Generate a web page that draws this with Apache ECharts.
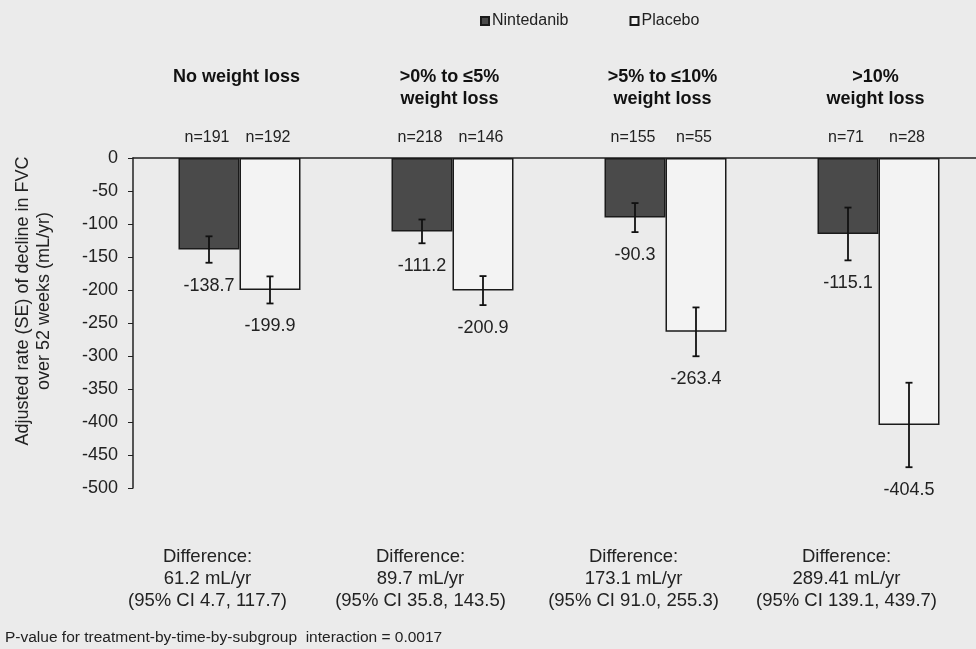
<!DOCTYPE html>
<html>
<head>
<meta charset="utf-8">
<script src="https://cdn.jsdelivr.net/npm/echarts@6/dist/echarts.min.js"></script>
<style>
  html, body { margin: 0; padding: 0; background: #ebebeb; }
  #main { width: 976px; height: 649px; }
</style>
</head>
<body>
<div id="main"></div>
<script>
var chart = echarts.init(document.getElementById('main'));

// values
var groups = ['No weight loss', '>0% to \u22645%\nweight loss', '>5% to \u226410%\nweight loss', '>10%\nweight loss'];
var nintedanib = [-138.7, -111.2, -90.3, -115.1];
var placebo = [-199.9, -200.9, -263.4, -404.5];
var seNintedanib = [20, 18, 22, 40];
var sePlacebo = [20.5, 22, 37, 64];
var nNintedanib = [191, 218, 155, 71];
var nPlacebo = [192, 146, 55, 28];
var diffs = ['61.2', '89.7', '173.1', '289.41'];
var ciLow = ['4.7', '35.8', '91.0', '139.1'];
var ciHigh = ['117.7', '143.5', '255.3', '439.7'];
var yTicks = [0, -50, -100, -150, -200, -250, -300, -350, -400, -450, -500];

var font = 'Liberation Sans, Arial, sans-serif';
var barW = 61;

// error bar + value label + n label, drawn at the bar's centre
function errorSeries(name, values, se, ns, side) {
    var data = values.map(function (v, i) { return [i, v, se[i], ns[i]]; });
    return {
        name: name + ' SE',
        type: 'custom',
        xAxisIndex: 0,
        z: 5,
        data: data,
        renderItem: function (params, api) {
            var i = api.value(0);
            var v = api.value(1);
            var e = api.value(2);
            var top = api.coord([i, v + e]);
            var bot = api.coord([i, v - e]);
            var zero = api.coord([i, 0]);
            var x = top[0] + side * barW / 2;
            var cap = 3.5;
            var st = { stroke: '#111', lineWidth: 1.8 };
            return {
                type: 'group',
                children: [
                    { type: 'line', shape: { x1: x, y1: top[1], x2: x, y2: bot[1] }, style: st },
                    { type: 'line', shape: { x1: x - cap, y1: top[1], x2: x + cap, y2: top[1] }, style: st },
                    { type: 'line', shape: { x1: x - cap, y1: bot[1], x2: x + cap, y2: bot[1] }, style: st },
                    { type: 'text', x: x, y: bot[1] + 23,
                      style: { text: v.toFixed(1), font: '18px ' + font, fill: '#222', align: 'center', verticalAlign: 'middle' } },
                    { type: 'text', x: x - 2, y: zero[1] - 20,
                      style: { text: 'n=' + api.value(3), font: '16px ' + font, fill: '#222', align: 'center', verticalAlign: 'middle' } }
                ]
            };
        }
    };
}

var option = {
    backgroundColor: '#ebebeb',
    textStyle: { fontFamily: font },
    legend: {
        top: 13,
        left: 480,
        padding: 0,
        itemWidth: 8,
        itemHeight: 8,
        itemGap: 61,
        icon: 'rect',
        textStyle: { fontSize: 16, color: '#222', padding: [0, 0, 0, -2] },
        data: ['Nintedanib', 'Placebo']
    },
    grid: { left: 133, top: 158, right: -9, bottom: 161, outerBoundsMode: 'none', containLabel: false },
    xAxis: [
        {
            type: 'category',
            position: 'top',
            data: groups,
            axisLine: { lineStyle: { color: '#222', width: 1.5 } },
            axisTick: { inside: true, length: 6, lineStyle: { color: '#222' } },
            axisLabel: {
                interval: 0,
                hideOverlap: false,
                margin: 48,
                fontSize: 18,
                fontWeight: 'bold',
                color: '#111',
                lineHeight: 22,
                padding: [0, 6, 0, 0],
                formatter: function (v) { return v.indexOf('\n') < 0 ? v + '\n ' : v; }
            }
        },
        {
            type: 'category',
            position: 'bottom',
            data: groups,
            axisLine: { show: false },
            axisTick: { show: false },
            axisLabel: {
                interval: 0,
                hideOverlap: false,
                margin: 58,
                fontSize: 18.5,
                color: '#222',
                lineHeight: 22,
                padding: [0, 64, 0, 0],
                formatter: function (v, i) {
                    return 'Difference:\n' + diffs[i] + ' mL/yr\n(95% CI ' + ciLow[i] + ', ' + ciHigh[i] + ')';
                }
            }
        }
    ],
    yAxis: {
        type: 'value',
        min: -500,
        max: 0,
        interval: 50,
        name: 'Adjusted rate (SE) of decline in FVC\nover 52 weeks (mL/yr)',
        nameLocation: 'middle',
        nameRotate: 90,
        nameGap: 78,
        nameTextStyle: { fontSize: 18, color: '#222', lineHeight: 21, padding: [0, 0, 0, 44] },
        axisLine: { show: true, lineStyle: { color: '#222', width: 1.5 } },
        axisTick: { show: true, length: 5, lineStyle: { color: '#222' } },
        splitLine: { show: false },
        axisLabel: {
            fontSize: 18,
            color: '#222',
            margin: 15,
            customValues: yTicks
        }
    },
    graphic: [
        {
            type: 'text',
            left: 5,
            top: 630,
            style: {
                text: 'P-value for treatment-by-time-by-subgroup  interaction = 0.0017',
                font: '15.5px ' + font,
                fill: '#222'
            }
        }
    ],
    series: [
        {
            name: 'Nintedanib',
            type: 'bar',
            xAxisIndex: 0,
            barWidth: barW,
            barGap: '0%',
            data: nintedanib,
            itemStyle: { color: '#4a4a4a', borderColor: '#1a1a1a', borderWidth: 1.5 }
        },
        {
            name: 'Placebo',
            type: 'bar',
            xAxisIndex: 0,
            barWidth: barW,
            barGap: '0%',
            data: placebo,
            itemStyle: { color: '#f3f3f3', borderColor: '#1a1a1a', borderWidth: 1.5 }
        },
        errorSeries('Nintedanib', nintedanib, seNintedanib, nNintedanib, -1),
        errorSeries('Placebo', placebo, sePlacebo, nPlacebo, 1)
    ]
};

chart.setOption(option);

window.onresize = chart.resize;
</script>
</body>
</html>
